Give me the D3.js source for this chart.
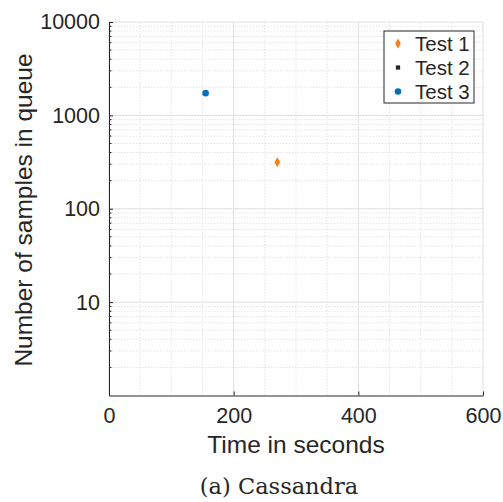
<!DOCTYPE html>
<html>
<head>
<meta charset="utf-8">
<script src="https://cdn.jsdelivr.net/npm/d3@7"></script>
<style>
  body { margin: 0; background: #fff; }
  text { fill: #262626; }
</style>
</head>
<body>
<script>
// values
var seriesNames = ['Test 1', 'Test 2', 'Test 3'];
var seriesColors = ['#ff7f0e', '#262626', '#0072bd'];
var seriesShapes = ['diamond', 'square', 'circle'];
var test1 = [{t: 270, n: 315}];
var test2 = [];  // nothing visible in the plot
var test3 = [{t: 155, n: 1730}];
var xTicks = [0, 200, 400, 600];
var yTicks = [10, 100, 1000, 10000];

var W = 503, H = 502;
var pLeft = 109, pRight = 483, pTop = 22, pBottom = 395.5;

var x = d3.scaleLinear().domain([0, 600]).range([pLeft, pRight]);
var y = d3.scaleLog().domain([1, 10000]).range([pBottom, pTop]);

var svg = d3.select('body').append('svg')
    .attr('width', W)
    .attr('height', H)
    .style('font-family', 'Liberation Sans, Arial, sans-serif');

// minor grid
var xMinor = d3.range(0, 601, 50).filter(function(d) { return d % 200 != 0; });
var yMinor = [];
[1, 10, 100, 1000].forEach(function(p) {
  for (var k = 2; k <= 9; k++) yMinor.push(p * k);
});

svg.append('g').selectAll('line')
  .data(xMinor)
  .enter().append('line')
    .attr('x1', function(d) { return x(d); })
    .attr('x2', function(d) { return x(d); })
    .attr('y1', pTop).attr('y2', pBottom)
    .style('stroke', '#e4e4e4')
    .style('stroke-dasharray', '1.5,1.5');

svg.append('g').selectAll('line')
  .data(yMinor)
  .enter().append('line')
    .attr('x1', pLeft).attr('x2', pRight)
    .attr('y1', function(d) { return y(d); })
    .attr('y2', function(d) { return y(d); })
    .style('stroke', '#e4e4e4')
    .style('stroke-dasharray', '1.5,1.5');

// major grid
svg.append('g').selectAll('line')
  .data(xTicks)
  .enter().append('line')
    .attr('x1', function(d) { return x(d); })
    .attr('x2', function(d) { return x(d); })
    .attr('y1', pTop).attr('y2', pBottom)
    .style('stroke', '#dedede');

svg.append('g').selectAll('line')
  .data(yTicks)
  .enter().append('line')
    .attr('x1', pLeft).attr('x2', pRight)
    .attr('y1', function(d) { return y(d); })
    .attr('y2', function(d) { return y(d); })
    .style('stroke', '#dedede');

// axes, ticks pointing inward like matlab
var xAxis = d3.axisBottom(x).tickValues(xTicks).tickSizeInner(-4).tickSizeOuter(0).tickPadding(12);
var yAxis = d3.axisLeft(y).tickValues(yTicks).tickFormat(d3.format('d')).tickSizeInner(-4).tickSizeOuter(0).tickPadding(9);

var gx = svg.append('g')
  .attr('transform', 'translate(0,' + pBottom + ')')
  .call(xAxis);
var gy = svg.append('g')
  .attr('transform', 'translate(' + pLeft + ',0)')
  .call(yAxis);

// minor y ticks
gy.selectAll('.minor')
  .data(yMinor)
  .enter().append('line')
    .attr('class', 'minor')
    .attr('x1', 0).attr('x2', 2.5)
    .attr('y1', function(d) { return y(d); })
    .attr('y2', function(d) { return y(d); })
    .style('stroke', '#262626');

[gx, gy].forEach(function(g) {
  g.select('.domain').style('stroke', '#262626').style('stroke-width', 1);
  g.selectAll('.tick line').style('stroke', '#262626');
  g.selectAll('.tick text')
    .style('font-size', '21.5px')
    .style('font-family', 'Liberation Sans, Arial, sans-serif')
    .attr('fill', '#262626');
});
gx.selectAll('.tick text').attr('dy', '0.71em');

// axis labels
svg.append('text')
  .attr('x', (pLeft + pRight) / 2)
  .attr('y', 453)
  .attr('text-anchor', 'middle')
  .style('font-size', '24.5px')
  .text('Time in seconds');

svg.append('text')
  .attr('transform', 'translate(32,210) rotate(-90)')
  .attr('text-anchor', 'middle')
  .style('font-size', '24.5px')
  .text('Number of samples in queue');

// caption
svg.append('text')
  .attr('x', 279)
  .attr('y', 494)
  .attr('text-anchor', 'middle')
  .style('font-family', 'DejaVu Serif, Liberation Serif, serif')
  .style('font-size', '22.5px')
  .text('(a) Cassandra');

// markers
var symbolFor = {
  diamond: d3.symbol().type(d3.symbolDiamond).size(28),
  square: d3.symbol().type(d3.symbolSquare).size(18),
  circle: d3.symbol().type(d3.symbolCircle).size(34)
};

var allSeries = [test1, test2, test3];
allSeries.forEach(function(data, i) {
  svg.append('g').selectAll('path')
    .data(data)
    .enter().append('path')
      .attr('transform', function(d) { return 'translate(' + x(d.t) + ',' + y(d.n) + ')'; })
      .attr('d', symbolFor[seriesShapes[i]])
      .style('fill', seriesColors[i]);
});

// legend
var lg = svg.append('g').attr('transform', 'translate(384,31)');
lg.append('rect')
  .attr('width', 90).attr('height', 72)
  .style('fill', '#fff')
  .style('stroke', '#262626')
  .style('stroke-width', 1);

var items = lg.selectAll('.item')
  .data(seriesNames)
  .enter().append('g')
    .attr('class', 'item')
    .attr('transform', function(d, i) { return 'translate(0,' + (12.5 + i * 24) + ')'; });

items.append('path')
  .attr('transform', 'translate(14,0)')
  .attr('d', function(d, i) { return symbolFor[seriesShapes[i]](); })
  .style('fill', function(d, i) { return seriesColors[i]; });

items.append('text')
  .attr('x', 31)
  .attr('dy', '0.35em')
  .style('font-size', '20.5px')
  .text(function(d) { return d; });
</script>
</body>
</html>
